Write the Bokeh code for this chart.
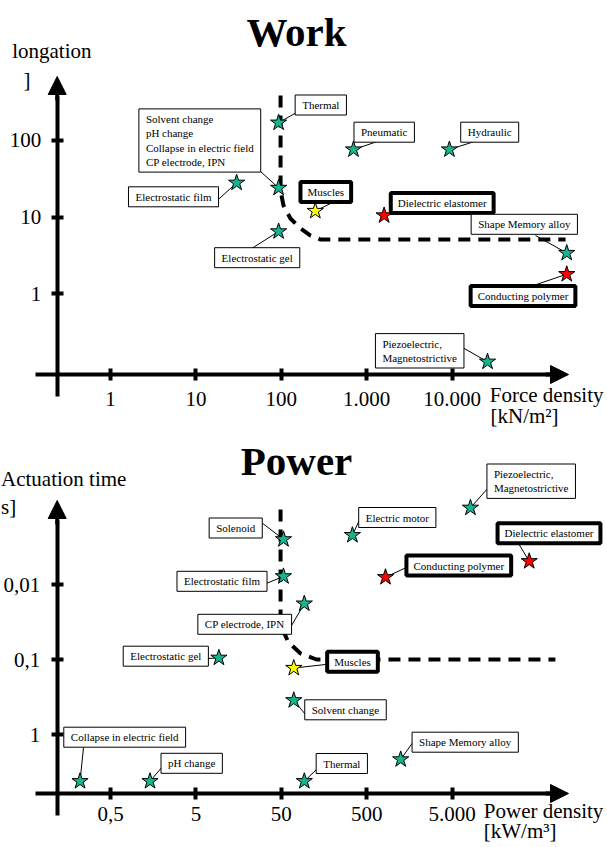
from bokeh.plotting import figure
from bokeh.layouts import column
from bokeh.models import (Range1d, LogAxis, FixedTicker, Label, Arrow, NormalHead,
                          ColumnDataSource, Grid)
from bokeh.embed import file_html
from bokeh.resources import INLINE

# ------------------------------------------------------------------ data: Work
work_names = ["Thermal",
              "Solvent change\npH change\nCollapse in electric field\nCP electrode, IPN",
              "Electrostatic film", "Electrostatic gel", "Muscles", "Dielectric elastomer",
              "Pneumatic", "Hydraulic", "Shape Memory alloy", "Conducting polymer",
              "Piezoelectric,\nMagnetostrictive"]
work_kind = ["other", "other", "other", "other", "muscle", "eap",
             "other", "other", "other", "eap", "other"]
work_force = [93, 93, 30, 93, 250, 1600, 700, 9300, 220000, 220000, 26000]        # kN/m2
work_elongation = [170, 24, 28, 6.5, 12, 10.5, 76, 76, 3.4, 1.8, 0.13]             # %
work_x_ticks = [1, 10, 100, 1000, 10000]
work_x_tick_labels = ["1", "10", "100", "1.000", "10.000"]
work_y_ticks = [1, 10, 100]
work_y_tick_labels = ["1", "10", "100"]
work_boundary_force = [98, 98, 106, 128, 168, 220, 288, 213000]
work_boundary_elongation = [385, 22, 14.2, 9.6, 7.1, 5.75, 5.1, 5.1]

# ------------------------------------------------------------------ data: Power
power_names = ["Solenoid", "Electrostatic film", "CP electrode, IPN", "Electrostatic gel",
               "Muscles", "Solvent change", "Collapse in electric field", "pH change",
               "Thermal", "Shape Memory alloy", "Electric motor",
               "Piezoelectric,\nMagnetostrictive", "Conducting polymer",
               "Dielectric elastomer"]
power_kind = ["other", "other", "other", "other", "muscle", "other", "other", "other",
              "other", "other", "other", "other", "eap", "eap"]
power_density = [53, 53, 93, 9.3, 70, 70, 0.22, 1.45, 93, 1250, 340, 8200, 830, 40000]  # kW/m3
actuation_time = [0.0025, 0.0078, 0.018, 0.095, 0.13, 0.35, 4.2, 4.2, 4.2, 2.15,
                  0.0022, 0.00095, 0.008, 0.0049]                                       # s
power_x_ticks = [0.5, 5, 50, 500, 5000]
power_x_tick_labels = ["0,5", "5", "50", "500", "5.000"]
power_y_ticks = [0.01, 0.1, 1]
power_y_tick_labels = ["0,01", "0,1", "1"]
power_boundary_density = [49, 49, 60.7, 84, 129, 81000]
power_boundary_time = [0.001, 0.035, 0.059, 0.083, 0.1, 0.1]

# ------------------------------------------------------------------ layout / style
FONT = "Liberation Serif"
W = 607
H1, H2 = 434, 413
COLORS = {"other": "#17b58d", "muscle": "#ffff00", "eap": "#ff0000"}
BASE_SHIFT = 0.38  # label baseline correction, in em


def work_x(px):
    return 10 ** ((px - 110.0) / 85.4)


def work_y(py):
    return 10 ** ((293.3 - py) / 76.7)


def pow_x(px):
    return 0.5 * 10 ** ((px - 110.0) / 85.4)


def pow_y(py):
    return 10 ** ((py - 734.0) / 75.0)


# label box centre (page px) and leader-line end (page px), same order as names
work_boxes = [(320.3, 104.5, 296, 112), (199.3, 140, 248, 160), (173, 196.3, 216.7, 200),
              (256.7, 257.2, 248, 250), (325.3, 191.5, 334, 201), (441.7, 202.5, 412, 210),
              (383.7, 131.7, 377, 141), (489.2, 131.7, 474, 141), (523.8, 223.8, 535, 235),
              (522.5, 295.5, 527, 287), (419.2, 350.3, 462, 347)]
power_boxes = [(235.2, 527.5, 261, 522), (221.5, 580.8, 265.7, 583), (244.2, 623.8, 289.3, 628),
               (165.3, 655.7, 206.7, 658), (352, 661.2, 325, 664), (345, 709.3, 305, 714),
               (124.2, 736.7, 83, 747), (191.2, 762.8, 162, 766), (341.3, 763, 317, 768),
               (464.7, 741.7, 413, 741), (396.8, 517, 361, 515), (530.7, 480.7, 488, 487),
               (458.3, 565, 408, 566), (548.5, 532.8, 518, 543)]


def panel(top, height, fx, fy, xs, ys, names, kinds, boxes, bx, by,
          xt, xtl, yt, ytl, title, title_base, xlab, ylab,
          x_axis_py, x_std, y_std, y_top_tip):
    p = figure(width=W, height=height, x_axis_type="log", y_axis_type="log",
               x_range=Range1d(fx(0), fx(W)),
               y_range=Range1d(fy(top + height), fy(top)),
               x_axis_location=None, y_axis_location=None,
               output_backend="svg", toolbar_location=None, min_border=0)
    p.outline_line_color = None
    p.background_fill_color = "white"
    p.border_fill_color = "white"
    for g in p.select(type=Grid):
        g.visible = False

    x_at = fy(x_axis_py)
    y_at = fx(56.7)

    xa = LogAxis(fixed_location=x_at, bounds=(fx(35), fx(552)),
                 ticker=FixedTicker(ticks=xt),
                 major_label_overrides={t: l for t, l in zip(xt, xtl)})
    ybounds = sorted([fy(x_axis_py + 22), fy(y_top_tip + 20)])
    ya = LogAxis(fixed_location=y_at, bounds=tuple(ybounds),
                 ticker=FixedTicker(ticks=yt),
                 major_label_overrides={t: l for t, l in zip(yt, ytl)})
    for ax, std in ((xa, x_std), (ya, y_std)):
        ax.axis_line_width = 4
        ax.axis_line_color = "black"
        ax.major_tick_line_width = 4
        ax.major_tick_line_color = "black"
        ax.major_tick_in = 6
        ax.major_tick_out = 6
        ax.minor_tick_line_color = None
        ax.major_label_text_font = FONT
        ax.major_label_text_font_size = "21px"
        ax.major_label_text_color = "black"
        ax.major_label_standoff = std
    p.add_layout(xa, "below")
    p.add_layout(ya, "left")

    p.add_layout(Arrow(end=NormalHead(size=18, fill_color="black", line_color="black"),
                       x_start=fx(545), y_start=x_at, x_end=fx(568), y_end=x_at,
                       line_width=4, line_color="black"))
    p.add_layout(Arrow(end=NormalHead(size=18, fill_color="black", line_color="black"),
                       x_start=y_at, y_start=fy(y_top_tip + 24), x_end=y_at, y_end=fy(y_top_tip),
                       line_width=4, line_color="black"))

    # boundary
    p.line(bx, by, line_color="black", line_width=4, line_dash="12 8")

    # leader lines
    src = ColumnDataSource(dict(x0=xs, y0=ys,
                                x1=[fx(b[2]) for b in boxes], y1=[fy(b[3]) for b in boxes]))
    p.segment("x0", "y0", "x1", "y1", source=src, line_color="black", line_width=1)

    # stars
    p.scatter(xs, ys, marker="star", size=17, line_color="black", line_width=1,
              fill_color=[COLORS[k] for k in kinds])

    # label boxes
    for name, kind, b in zip(names, kinds, boxes):
        thick = kind != "other"
        multi = "\n" in name
        p.add_layout(Label(x=fx(b[0]), y=fy(b[1]), text=name, anchor="center",
                           text_align="left" if multi else "center",
                           text_baseline="middle",
                           text_font=FONT, text_font_size="11px", text_color="black",
                           background_fill_color="white",
                           border_line_color="black",
                           border_line_width=4 if thick else 1,
                           padding=(7, 4)))

    # title
    p.add_layout(Label(x=fx(296), y=fy(title_base - BASE_SHIFT * 41), text=title,
                       text_font=FONT, text_font_style="bold", text_font_size="41px",
                       text_color="black", text_align="center", text_baseline="alphabetic"))
    # axis titles
    for (tx, ty, t, al) in xlab + ylab:
        p.add_layout(Label(x=fx(tx), y=fy(ty - BASE_SHIFT * 21), text=t, text_font=FONT,
                           text_color="black", text_font_size="21px", text_align=al,
                           text_baseline="alphabetic"))
    return p


p1 = panel(0, H1, work_x, work_y, work_force, work_elongation, work_names, work_kind,
           work_boxes, work_boundary_force, work_boundary_elongation,
           work_x_ticks, work_x_tick_labels, work_y_ticks, work_y_tick_labels,
           "Work", 47,
           [(489.3, 402, "Force density", "left"), (490, 423, "[kN/m²]", "left")],
           [(11.7, 58, "longation", "left"), (23, 87, "]", "left")],
           374, 11, 10, 76)

p2 = panel(H1, H2, pow_x, pow_y, power_density, actuation_time, power_names,
           power_kind, power_boxes, power_boundary_density, power_boundary_time,
           power_x_ticks, power_x_tick_labels, power_y_ticks, power_y_tick_labels,
           "Power", 476,
           [(483.3, 818, "Power density", "left"), (483.3, 838, "[kW/m³]", "left")],
           [(0.5, 486, "Actuation time", "left"), (0.5, 514, "s]", "left")],
           793, 7, 11, 500)

layout = column(p1, p2)
open("out.html", "w").write(file_html(layout, INLINE))
